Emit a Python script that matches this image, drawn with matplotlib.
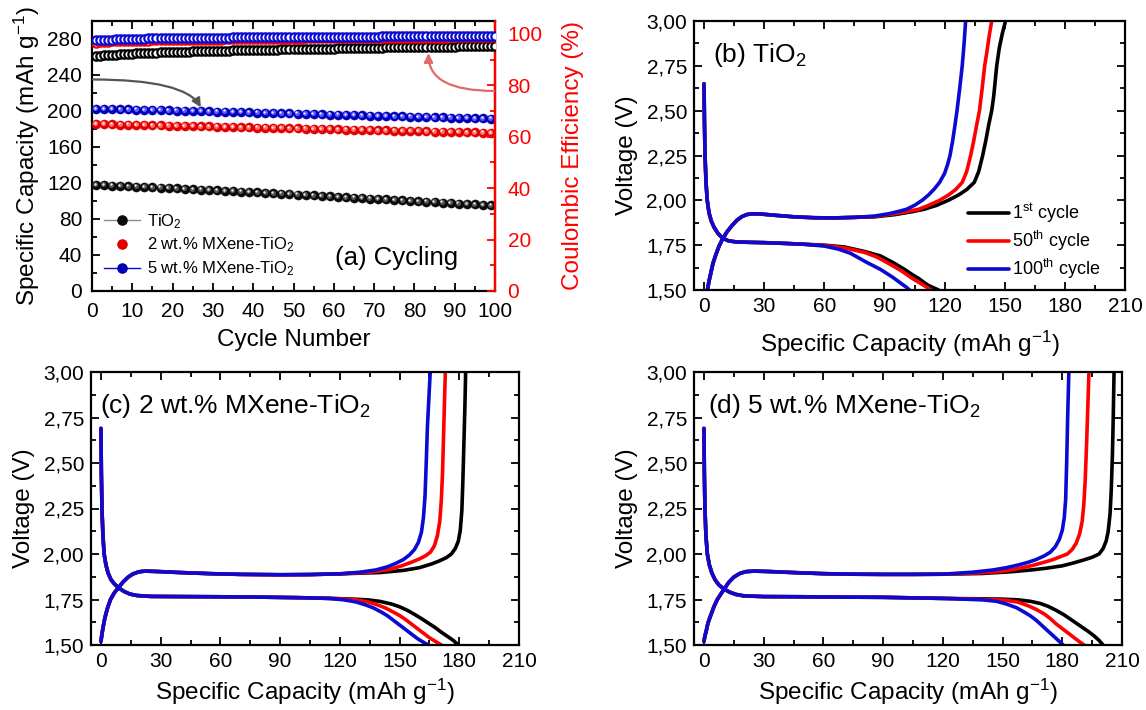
import matplotlib
matplotlib.use('Agg')
import matplotlib.pyplot as plt
from matplotlib.ticker import MultipleLocator, FuncFormatter
from matplotlib.lines import Line2D
from matplotlib.transforms import offset_copy
import numpy as np

plt.rcParams['font.family'] = ['Liberation Sans', 'DejaVu Sans']
plt.rcParams['mathtext.fontset'] = 'custom'
plt.rcParams['mathtext.rm'] = 'Liberation Sans'
plt.rcParams['mathtext.it'] = 'Liberation Sans:italic'
plt.rcParams['mathtext.bf'] = 'Liberation Sans:bold'

# ---------------- Panel (a) data ----------------
cap_cycles = list(range(1, 100, 2))
cap_tio2 = [118.0, 117.6, 117.2, 116.8, 116.4, 116.0, 115.6, 115.2, 114.8, 114.4,
            114.0, 113.6, 113.1, 112.7, 112.2, 111.8, 111.3, 110.9, 110.4, 110.0,
            109.5, 109.0, 108.6, 108.1, 107.6, 107.1, 106.7, 106.2, 105.7, 105.2,
            104.7, 104.2, 103.7, 103.2, 102.7, 102.2, 101.7, 101.2, 100.7, 100.2,
            99.7, 99.2, 98.7, 98.2, 97.7, 97.2, 96.7, 96.2, 95.7, 95.2]
cap_2wt = [185.5, 185.4, 185.2, 185.0, 184.8, 184.6, 184.4, 184.2, 184.0, 183.8,
           183.6, 183.4, 183.2, 183.0, 182.8, 182.6, 182.4, 182.2, 182.0, 181.8,
           181.6, 181.4, 181.2, 181.0, 180.8, 180.6, 180.4, 180.2, 180.0, 179.8,
           179.6, 179.4, 179.2, 179.0, 178.8, 178.6, 178.4, 178.2, 178.0, 177.8,
           177.6, 177.4, 177.2, 177.0, 176.8, 176.6, 176.4, 176.2, 176.0, 175.8]
cap_5wt = [202.5, 202.3, 202.1, 201.9, 201.7, 201.5, 201.3, 201.1, 200.9, 200.7,
           200.5, 200.3, 200.1, 199.9, 199.6, 199.4, 199.2, 198.9, 198.7, 198.5,
           198.2, 198.0, 197.8, 197.5, 197.3, 197.0, 196.8, 196.6, 196.3, 196.1,
           195.9, 195.6, 195.4, 195.1, 194.9, 194.7, 194.4, 194.2, 194.0, 193.7,
           193.5, 193.3, 193.0, 192.8, 192.6, 192.3, 192.1, 191.9, 191.7, 191.5]

ce_cycles = list(range(1, 101))
ce_tio2 = [91.2, 91.4, 91.6, 91.7, 91.8, 91.9, 92.0, 92.1, 92.2, 92.3,
           92.4, 92.4, 92.5, 92.6, 92.6, 92.7, 92.8, 92.8, 92.9, 92.9,
           93.0, 93.0, 93.1, 93.1, 93.2, 93.2, 93.3, 93.3, 93.3, 93.4,
           93.4, 93.5, 93.5, 93.5, 93.6, 93.6, 93.6, 93.7, 93.7, 93.7,
           93.8, 93.8, 93.8, 93.9, 93.9, 93.9, 94.0, 94.0, 94.0, 94.1,
           94.1, 94.1, 94.1, 94.2, 94.2, 94.2, 94.3, 94.3, 94.3, 94.3,
           94.4, 94.4, 94.4, 94.4, 94.5, 94.5, 94.5, 94.5, 94.6, 94.6,
           94.6, 94.6, 94.7, 94.7, 94.7, 94.7, 94.8, 94.8, 94.8, 94.8,
           94.8, 94.9, 94.9, 94.9, 94.9, 95.0, 95.0, 95.0, 95.0, 95.0,
           95.1, 95.1, 95.1, 95.1, 95.1, 95.2, 95.2, 95.2, 95.2, 95.2]
ce_2wt = [96.6, 96.8, 96.9, 97.0, 97.1, 97.1, 97.2, 97.2, 97.3, 97.3,
          97.3, 97.4, 97.4, 97.4, 97.5, 97.5, 97.5, 97.5, 97.6, 97.6,
          97.6, 97.6, 97.7, 97.7, 97.7, 97.7, 97.7, 97.8, 97.8, 97.8,
          97.8, 97.8, 97.9, 97.9, 97.9, 97.9, 97.9, 97.9, 98.0, 98.0,
          98.0, 98.0, 98.0, 98.0, 98.0, 98.1, 98.1, 98.1, 98.1, 98.1,
          98.1, 98.1, 98.2, 98.2, 98.2, 98.2, 98.2, 98.2, 98.2, 98.2,
          98.3, 98.3, 98.3, 98.3, 98.3, 98.3, 98.3, 98.3, 98.3, 98.4,
          98.4, 98.4, 98.4, 98.4, 98.4, 98.4, 98.4, 98.4, 98.5, 98.5,
          98.5, 98.5, 98.5, 98.5, 98.5, 98.5, 98.5, 98.5, 98.6, 98.6,
          98.6, 98.6, 98.6, 98.6, 98.6, 98.6, 98.6, 98.6, 98.6, 98.7]
ce_5wt = [97.5, 97.6, 97.7, 97.8, 97.8, 97.9, 97.9, 98.0, 98.0, 98.0,
          98.1, 98.1, 98.1, 98.2, 98.2, 98.2, 98.2, 98.3, 98.3, 98.3,
          98.3, 98.3, 98.4, 98.4, 98.4, 98.4, 98.4, 98.5, 98.5, 98.5,
          98.5, 98.5, 98.5, 98.5, 98.6, 98.6, 98.6, 98.6, 98.6, 98.6,
          98.6, 98.7, 98.7, 98.7, 98.7, 98.7, 98.7, 98.7, 98.7, 98.7,
          98.8, 98.8, 98.8, 98.8, 98.8, 98.8, 98.8, 98.8, 98.8, 98.8,
          98.9, 98.9, 98.9, 98.9, 98.9, 98.9, 98.9, 98.9, 98.9, 98.9,
          98.9, 99.0, 99.0, 99.0, 99.0, 99.0, 99.0, 99.0, 99.0, 99.0,
          99.0, 99.0, 99.0, 99.1, 99.1, 99.1, 99.1, 99.1, 99.1, 99.1,
          99.1, 99.1, 99.1, 99.1, 99.2, 99.2, 99.2, 99.2, 99.2, 99.2]

legend_a = ['TiO$_2$', '2 wt.% MXene-TiO$_2$', '5 wt.% MXene-TiO$_2$']
legend_cycles = ['1$^{\\mathrm{st}}$ cycle', '50$^{\\mathrm{th}}$ cycle', '100$^{\\mathrm{th}}$ cycle']

# ---------------- Panel (b) TiO2 : (capacity, voltage) ----------------
b_dis_head = [(0, 2.65), (0.2, 2.45), (0.5, 2.25), (1, 2.1), (1.6, 2.0), (2.5, 1.93), (3.6, 1.885),
              (5, 1.85), (7, 1.815), (9.2, 1.79), (12, 1.775), (16, 1.768), (22, 1.766), (30, 1.764),
              (40, 1.76), (50, 1.755)]
b_dis_1 = [(60, 1.75), (70, 1.74), (80, 1.715), (88, 1.69), (94, 1.655), (100, 1.615), (104, 1.585),
           (107, 1.565), (110, 1.54), (112, 1.525), (115, 1.51), (117, 1.5)]
b_dis_50 = [(60, 1.748), (70, 1.735), (80, 1.71), (86, 1.685), (91, 1.655), (98, 1.61), (104, 1.564),
            (109, 1.53), (111.5, 1.513), (113.5, 1.5)]
b_dis_100 = [(60, 1.745), (67, 1.728), (73, 1.705), (81, 1.655), (88, 1.615), (94, 1.572), (98.5, 1.535),
             (101, 1.515), (102.5, 1.5)]
b_chg_head = [(1.7, 1.5), (2.5, 1.55), (3.5, 1.6), (4.5, 1.65), (6, 1.7), (7.5, 1.745), (9.2, 1.783),
              (11.5, 1.825), (14, 1.86), (16.5, 1.89), (19, 1.91), (21.5, 1.921), (24, 1.925), (28, 1.924),
              (35, 1.917), (45, 1.908), (55, 1.903), (65, 1.902), (75, 1.905)]
b_chg_1 = [(85, 1.908), (95, 1.92), (103, 1.935), (109.7, 1.95), (116, 1.972), (121.8, 2.0), (127, 2.03),
           (131, 2.06), (134.8, 2.1), (137, 2.16), (139, 2.25), (140.5, 2.33), (142, 2.42), (143.5, 2.5),
           (144.5, 2.58), (145.3, 2.67), (146, 2.75), (147.3, 2.85), (148.8, 2.93), (150.4, 3.0)]
b_chg_50 = [(85, 1.91), (95, 1.925), (101, 1.937), (107, 1.95), (112, 1.972), (117.5, 2.0), (122, 2.03),
            (125.5, 2.06), (128.8, 2.1), (131, 2.16), (133, 2.25), (134.5, 2.33), (136, 2.42), (137.4, 2.5),
            (138.7, 2.62), (140, 2.75), (141, 2.82), (142.3, 2.92), (143.5, 3.0)]
b_chg_100 = [(85, 1.912), (92, 1.925), (97, 1.938), (101, 1.95), (105, 1.972), (108.8, 2.0), (112, 2.03),
             (115, 2.065), (117.5, 2.1), (120, 2.15), (121.5, 2.2), (122.7, 2.25), (124, 2.33), (125.2, 2.42),
             (126.2, 2.5), (127.5, 2.62), (128.8, 2.75), (129.7, 2.87), (130.5, 3.0)]

# ---------------- Panel (c) 2 wt.% ----------------
c_dis_head = [(0, 2.69), (0.2, 2.45), (0.5, 2.25), (1, 2.1), (1.6, 2.0), (2.5, 1.94), (3.6, 1.895),
              (5, 1.86), (6.8, 1.835), (8.8, 1.815), (11.5, 1.795), (14.5, 1.78), (18, 1.772), (25, 1.767),
              (40, 1.766), (60, 1.765), (80, 1.763), (100, 1.76), (115, 1.756)]
c_dis_1 = [(125, 1.753), (134, 1.748), (140, 1.74), (146, 1.725), (150, 1.71), (154, 1.69), (158, 1.665),
           (161, 1.645), (164.5, 1.62), (168, 1.595), (171, 1.57), (174, 1.548), (177, 1.525), (179.5, 1.5)]
c_dis_50 = [(120, 1.754), (128, 1.748), (134, 1.737), (139, 1.72), (143, 1.703), (147, 1.68), (150, 1.662),
            (153, 1.64), (156, 1.615), (159, 1.59), (162, 1.565), (165, 1.54), (168, 1.52), (171, 1.5)]
c_dis_100 = [(122, 1.748), (128, 1.737), (133, 1.72), (137, 1.703), (141, 1.68), (144, 1.66), (147, 1.635),
             (150, 1.61), (153, 1.585), (156, 1.56), (159, 1.535), (162, 1.515), (164.5, 1.5)]
c_chg_head = [(0, 1.52), (0.5, 1.56), (1.1, 1.6), (2, 1.65), (3.2, 1.7), (4.8, 1.75), (6.6, 1.785),
              (8.8, 1.815), (11, 1.845), (13.5, 1.872), (16, 1.89), (19, 1.902), (22, 1.906), (28, 1.904),
              (40, 1.898), (55, 1.892), (70, 1.888), (90, 1.886), (105, 1.887), (120, 1.891)]
c_chg_1 = [(140, 1.898), (152, 1.91), (160, 1.925), (166, 1.945), (170, 1.962), (173.5, 1.98), (176, 2.0),
           (178, 2.03), (179.5, 2.07), (180.5, 2.13), (181.3, 2.24), (181.8, 2.4), (182.3, 2.6), (182.8, 2.8),
           (183.2, 3.0)]
c_chg_50 = [(135, 1.9), (145, 1.915), (151, 1.935), (156, 1.955), (160, 1.973), (163, 1.99), (165.5, 2.01),
            (167.5, 2.045), (169, 2.1), (170.2, 2.18), (171, 2.3), (171.6, 2.45), (172.1, 2.65), (172.6, 2.85),
            (173, 3.0)]
c_chg_100 = [(130, 1.9), (138, 1.912), (144, 1.93), (148, 1.948), (152, 1.97), (155, 1.995), (157.5, 2.025),
             (159.5, 2.065), (161, 2.12), (162, 2.2), (162.8, 2.32), (163.4, 2.5), (164, 2.7), (164.7, 2.85),
             (165.4, 3.0)]

# ---------------- Panel (d) 5 wt.% ----------------
d_dis_head = [(0, 2.69), (0.2, 2.45), (0.5, 2.25), (1, 2.1), (1.7, 2.0), (2.7, 1.94), (4, 1.895),
              (5.5, 1.86), (7.5, 1.83), (10, 1.808), (13, 1.79), (16, 1.778), (20, 1.77), (30, 1.766),
              (50, 1.765), (70, 1.763), (90, 1.762), (110, 1.758), (125, 1.755)]
d_dis_1 = [(140, 1.754), (150, 1.752), (158, 1.748), (164, 1.74), (169, 1.728), (173, 1.712), (177, 1.69),
           (181, 1.665), (185, 1.635), (189, 1.605), (193, 1.575), (196, 1.55), (198.5, 1.525), (200.5, 1.5)]
d_dis_50 = [(135, 1.752), (145, 1.75), (152, 1.745), (158, 1.735), (163, 1.715), (167, 1.695), (171, 1.67),
            (174, 1.645), (177, 1.615), (180, 1.59), (183, 1.565), (186, 1.54), (189, 1.515), (191, 1.5)]
d_dis_100 = [(130, 1.752), (140, 1.748), (147, 1.74), (152, 1.725), (157, 1.705), (161, 1.68), (164, 1.66),
             (167, 1.635), (170, 1.605), (173, 1.575), (176, 1.545), (178.5, 1.52), (180.5, 1.5)]
d_chg_head = [(0, 1.52), (0.5, 1.55), (1.2, 1.58), (2, 1.62), (3.3, 1.66), (5, 1.71), (6.7, 1.75),
              (8.5, 1.78), (10.3, 1.81), (12.5, 1.845), (15, 1.873), (18, 1.893), (21, 1.903), (25, 1.906),
              (32, 1.904), (45, 1.898), (60, 1.892), (75, 1.889), (90, 1.888), (105, 1.888), (120, 1.889)]
d_chg_1 = [(140, 1.893), (155, 1.903), (165, 1.913), (172, 1.922), (180, 1.935), (186, 1.952), (191, 1.968),
           (195, 1.982), (198.5, 2.0), (200.5, 2.03), (202, 2.07), (203, 2.12), (204, 2.22), (204.6, 2.35),
           (205.2, 2.55), (205.6, 2.75), (206, 3.0)]
d_chg_50 = [(140, 1.897), (150, 1.905), (158, 1.92), (165, 1.937), (170, 1.952), (175, 1.968), (179, 1.985),
            (182.5, 2.0), (185, 2.025), (187, 2.06), (188.7, 2.11), (190, 2.18), (190.8, 2.27), (191.5, 2.4),
            (192.2, 2.6), (192.8, 2.8), (193.4, 3.0)]
d_chg_100 = [(135, 1.9), (145, 1.912), (152, 1.925), (158, 1.94), (163, 1.955), (167, 1.97), (171, 1.99),
             (174, 2.01), (176.5, 2.04), (178.5, 2.08), (180, 2.13), (181, 2.2), (181.7, 2.3), (182.2, 2.5),
             (182.7, 2.75), (183.3, 3.0)]

panel_labels = ['(a) Cycling', '(b) TiO$_2$', '(c) 2 wt.% MXene-TiO$_2$', '(d) 5 wt.% MXene-TiO$_2$']

# ---------------- styling ----------------
BLACK = '#000000'
RED = '#ff0000'
BLUE = '#0a0ad2'
TICK_FS = 15
LABEL_FS = 17.5
SPINE_W = 1.6

fig = plt.figure(figsize=(11.46, 7.10), dpi=100)
W, H = 1146, 710


def add_axes_px(left, right, top, bottom):
    return fig.add_axes([left / W, 1 - bottom / H, (right - left) / W, (bottom - top) / H])


def style_axes(ax):
    for s in ax.spines.values():
        s.set_linewidth(SPINE_W)
    ax.tick_params(which='both', direction='in', top=True, right=True, labelsize=TICK_FS,
                   width=1.3, pad=5)
    ax.tick_params(which='major', length=6)
    ax.tick_params(which='minor', length=3.5)


comma_fmt = FuncFormatter(lambda v, p: f'{v:.2f}'.replace('.', ','))


def voltage_panel(ax, dis_head, dis_tails, chg_head, chg_tails, label, label_x, xpad):
    colors = [BLACK, RED, BLUE]
    lines = []
    for tail_d, tail_c, col, lab in zip(dis_tails, chg_tails, colors, legend_cycles):
        d = np.array(dis_head + tail_d)
        c = np.array(chg_head + tail_c)
        l, = ax.plot(d[:, 0], d[:, 1], color=col, lw=2.6, solid_capstyle='round', label=lab)
        ax.plot(c[:, 0], c[:, 1], color=col, lw=2.6, solid_capstyle='round')
        lines.append(l)
    ax.set_xlim(-5, 210)
    ax.set_ylim(1.5, 3.0)
    ax.xaxis.set_major_locator(MultipleLocator(30))
    ax.xaxis.set_minor_locator(MultipleLocator(15))
    ax.yaxis.set_major_locator(MultipleLocator(0.25))
    ax.yaxis.set_minor_locator(MultipleLocator(0.125))
    ax.yaxis.set_major_formatter(comma_fmt)
    style_axes(ax)
    ax.set_xlabel('Specific Capacity (mAh g$^{-1}$)', fontsize=LABEL_FS, labelpad=xpad)
    ax.set_ylabel('Voltage (V)', fontsize=LABEL_FS, labelpad=6)
    ax.text(label_x, 0.875, label, transform=ax.transAxes, fontsize=19, ha='left', va='center')
    return lines


# ---------------- Panel (a) ----------------
axa = add_axes_px(92, 495, 21, 291)
axa2 = axa.twinx()


def sphere(ax, x, y, base, mid, ms=6.6, zorder=3):
    ax.plot(x, y, ls='none', marker='o', ms=ms, mfc=base, mec=base, mew=0.3, zorder=zorder)
    t1 = offset_copy(ax.transData, fig=fig, x=-0.5, y=0.5, units='points')
    ax.plot(x, y, ls='none', marker='o', ms=ms * 0.55, mfc=mid, mec='none', transform=t1, zorder=zorder + 0.1)
    t2 = offset_copy(ax.transData, fig=fig, x=-0.9, y=0.9, units='points')
    ax.plot(x, y, ls='none', marker='o', ms=ms * 0.25, mfc='white', mec='none', alpha=0.9,
            transform=t2, zorder=zorder + 0.2)


axa.plot(cap_cycles, cap_tio2, color='#8c8c8c', lw=1.0, zorder=2)
axa.plot(cap_cycles, cap_5wt, color=BLUE, lw=1.0, zorder=2)
sphere(axa, cap_cycles, cap_tio2, '#0a0a0a', '#555555')
sphere(axa, cap_cycles, cap_2wt, '#e00000', '#ff6a6a')
sphere(axa, cap_cycles, cap_5wt, '#0000b8', '#5a5aff')

for ce, col in [(ce_tio2, BLACK), (ce_2wt, RED), (ce_5wt, BLUE)]:
    axa2.plot(ce_cycles, ce, ls='none', marker='o', ms=6.0, mfc='white', mec=col, mew=1.6, zorder=3)

axa.set_xlim(0, 100)
axa.set_ylim(0, 300)
axa2.set_ylim(0, 105)
axa.xaxis.set_major_locator(MultipleLocator(10))
axa.xaxis.set_minor_locator(MultipleLocator(5))
axa.yaxis.set_major_locator(MultipleLocator(40))
axa.yaxis.set_minor_locator(MultipleLocator(20))
axa2.yaxis.set_major_locator(MultipleLocator(20))
axa2.yaxis.set_minor_locator(MultipleLocator(10))
style_axes(axa)
axa.tick_params(which='both', right=False)
axa.tick_params(axis='y', pad=7)
axa.tick_params(axis='x', pad=8)
axa2.tick_params(which='both', direction='in', labelsize=TICK_FS, colors=RED, width=1.3, pad=9)
axa2.tick_params(which='major', length=6)
axa2.tick_params(which='minor', length=3.5)
for s in axa2.spines.values():
    s.set_linewidth(SPINE_W)
axa2.spines['right'].set_color(RED)
axa2.spines['left'].set_visible(False)
axa2.spines['top'].set_visible(False)
axa2.spines['bottom'].set_visible(False)

axa.set_xlabel('Cycle Number', fontsize=LABEL_FS, labelpad=6)
axa.set_ylabel('Specific Capacity (mAh g$^{-1}$)', fontsize=LABEL_FS, labelpad=4)
axa2.set_ylabel('Coulombic Efficiency (%)', fontsize=LABEL_FS, color=RED, labelpad=14)

handles_a = [
    Line2D([], [], color='#8c8c8c', lw=1.0, marker='o', ms=6.6, mfc='#0a0a0a', mec='#0a0a0a'),
    Line2D([], [], ls='none', marker='o', ms=6.6, mfc='#e00000', mec='#e00000'),
    Line2D([], [], color=BLUE, lw=1.0, marker='o', ms=6.6, mfc='#0000b8', mec='#0000b8'),
]
axa.legend(handles_a, legend_a, loc='center left', bbox_to_anchor=(0.0, 0.17), frameon=False,
           fontsize=12, handlelength=2.2, handletextpad=0.4, labelspacing=0.3, borderpad=0.2)
axa.text(0.603, 0.122, panel_labels[0], transform=axa.transAxes, fontsize=18.5, ha='left', va='center')

axa.annotate('', xy=(27, 204), xytext=(0.2, 235),
             arrowprops=dict(arrowstyle='-|>', color='#555555', lw=1.6, mutation_scale=13,
                             connectionstyle='angle3,angleA=0,angleB=-60', shrinkA=0, shrinkB=0))
axa2.annotate('', xy=(83.5, 92.5), xytext=(99.8, 77.8),
              arrowprops=dict(arrowstyle='-|>', color='#e06a6a', lw=1.6, mutation_scale=13,
                              connectionstyle='angle3,angleA=0,angleB=90', shrinkA=0, shrinkB=0))

# ---------------- Panel (b) ----------------
axb = add_axes_px(694, 1125, 21, 290)
lines_b = voltage_panel(axb, b_dis_head, [b_dis_1, b_dis_50, b_dis_100], b_chg_head,
                        [b_chg_1, b_chg_50, b_chg_100], panel_labels[1], 0.044, 9)
axb.legend(lines_b, legend_cycles, loc='center left', bbox_to_anchor=(0.61, 0.18), frameon=False,
           fontsize=13, handlelength=2.3, handletextpad=0.15, labelspacing=0.22, borderpad=0.1)

# ---------------- Panel (c) ----------------
axc = add_axes_px(91, 519, 372, 645)
voltage_panel(axc, c_dis_head, [c_dis_1, c_dis_50, c_dis_100], c_chg_head,
              [c_chg_1, c_chg_50, c_chg_100], panel_labels[2], 0.022, 4)

# ---------------- Panel (d) ----------------
axd = add_axes_px(694, 1122, 372, 645)
voltage_panel(axd, d_dis_head, [d_dis_1, d_dis_50, d_dis_100], d_chg_head,
              [d_chg_1, d_chg_50, d_chg_100], panel_labels[3], 0.033, 4)

fig.savefig('out.png', dpi=100)
